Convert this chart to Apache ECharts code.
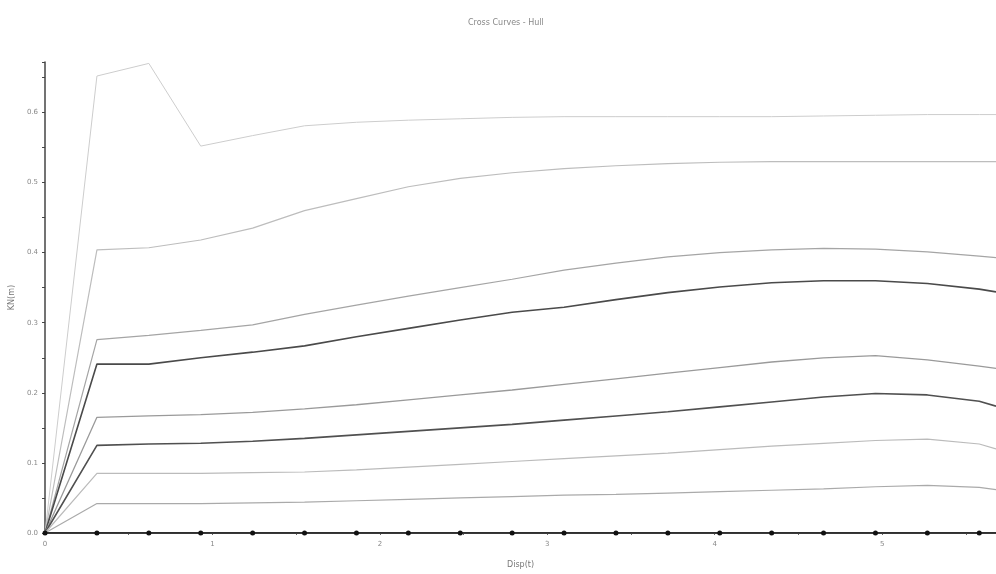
<!DOCTYPE html>
<html>
<head>
<meta charset="utf-8">
<script src="https://cdn.jsdelivr.net/npm/echarts@6/dist/echarts.min.js"></script>
<style>html,body{margin:0;padding:0;background:#fff;}#c{width:996px;height:574px;}</style>
</head>
<body>
<div id="c"></div>
<script>
const displacement = [0, 0.31, 0.62, 0.93, 1.24, 1.55, 1.86, 2.17, 2.48, 2.79, 3.10, 3.41, 3.72, 4.03, 4.34, 4.65, 4.96, 5.27, 5.58, 5.68];
const curveA = [0, 0.652, 0.670, 0.552, 0.567, 0.581, 0.586, 0.589, 0.591, 0.593, 0.594, 0.594, 0.594, 0.594, 0.594, 0.595, 0.596, 0.597, 0.597, 0.597];
const curveB = [0, 0.404, 0.407, 0.418, 0.435, 0.460, 0.477, 0.494, 0.506, 0.514, 0.520, 0.524, 0.527, 0.529, 0.530, 0.530, 0.530, 0.530, 0.530, 0.530];
const curveC = [0, 0.276, 0.282, 0.289, 0.297, 0.312, 0.325, 0.338, 0.350, 0.362, 0.375, 0.385, 0.394, 0.400, 0.404, 0.406, 0.405, 0.401, 0.395, 0.393];
const curveD = [0, 0.241, 0.241, 0.250, 0.258, 0.267, 0.280, 0.292, 0.304, 0.315, 0.322, 0.333, 0.343, 0.351, 0.357, 0.360, 0.360, 0.356, 0.348, 0.344];
const curveE = [0, 0.165, 0.167, 0.169, 0.172, 0.177, 0.183, 0.190, 0.197, 0.204, 0.212, 0.220, 0.228, 0.236, 0.244, 0.250, 0.253, 0.247, 0.238, 0.235];
const curveF = [0, 0.125, 0.127, 0.128, 0.131, 0.135, 0.140, 0.145, 0.150, 0.155, 0.161, 0.167, 0.173, 0.180, 0.187, 0.194, 0.199, 0.197, 0.188, 0.181];
const curveG = [0, 0.085, 0.085, 0.085, 0.086, 0.087, 0.090, 0.094, 0.098, 0.102, 0.106, 0.110, 0.114, 0.119, 0.124, 0.128, 0.132, 0.134, 0.127, 0.120];
const curveH = [0, 0.042, 0.042, 0.042, 0.043, 0.044, 0.046, 0.048, 0.050, 0.052, 0.054, 0.055, 0.057, 0.059, 0.061, 0.063, 0.066, 0.068, 0.065, 0.062];
const curveZero = [0, 0, 0, 0, 0, 0, 0, 0, 0, 0, 0, 0, 0, 0, 0, 0, 0, 0, 0, 0];
const yTickLabels = ['0.0', '0.1', '0.2', '0.3', '0.4', '0.5', '0.6'];

const curves = [
  {data: curveA, color: '#cdcdcd', width: 1},
  {data: curveB, color: '#bdbdbd', width: 1.2},
  {data: curveC, color: '#a5a5a5', width: 1.2},
  {data: curveD, color: '#4a4a4a', width: 1.6},
  {data: curveE, color: '#9a9a9a', width: 1.3},
  {data: curveF, color: '#505050', width: 1.6},
  {data: curveG, color: '#bbbbbb', width: 1.2},
  {data: curveH, color: '#aaaaaa', width: 1.2}
];

const series = curves.map(c => ({
  type: 'line',
  data: displacement.map((x, i) => [x, c.data[i]]),
  symbol: 'none',
  lineStyle: {color: c.color, width: c.width},
  animation: false,
  z: 2
}));
series.push({
  type: 'line',
  data: displacement.map((x, i) => ({value: [x, curveZero[i]], symbol: i === displacement.length - 1 ? 'none' : 'circle'})),
  symbolSize: 5,
  itemStyle: {color: '#111'},
  lineStyle: {color: '#222', width: 1.5},
  animation: false,
  z: 3
});

const chart = echarts.init(document.getElementById('c'));
chart.setOption({
  backgroundColor: '#fff',
  animation: false,
  title: {
    text: 'Cross Curves - Hull',
    left: 463, top: 14,
    textStyle: {fontSize: 8, fontWeight: 'normal', color: '#888', fontFamily: 'DejaVu Sans'}
  },
  grid: {left: 44, right: 0, top: 62, bottom: 35},
  xAxis: {
    type: 'value', min: 0, max: 5.68, interval: 1,
    name: 'Disp(t)', nameLocation: 'middle', nameGap: 28,
    nameTextStyle: {fontSize: 8, color: '#777', fontFamily: 'DejaVu Sans'},
    axisLine: {show: true, lineStyle: {color: '#222', width: 1.5}},
    axisTick: {show: true, length: 2, lineStyle: {color: '#666'}},
    minorTick: {show: true, splitNumber: 2, length: 2, lineStyle: {color: '#666'}},
    axisLabel: {fontSize: 7, color: '#888', margin: 8, showMaxLabel: false, fontFamily: 'DejaVu Sans'},
    splitLine: {show: false}
  },
  yAxis: {
    type: 'value', min: 0, max: 0.672, interval: 0.1,
    name: 'KN(m)', nameLocation: 'middle', nameGap: 27, nameRotate: 90,
    nameTextStyle: {fontSize: 8, color: '#777', fontFamily: 'DejaVu Sans'},
    axisLine: {show: true, lineStyle: {color: '#444', width: 1.5}},
    axisTick: {show: true, length: 3, lineStyle: {color: '#444'}},
    minorTick: {show: true, splitNumber: 2, length: 3, lineStyle: {color: '#444'}},
    axisLabel: {
      fontSize: 7, color: '#888', margin: 7, showMaxLabel: false, fontFamily: 'DejaVu Sans',
      formatter: v => yTickLabels[Math.round(v * 10)] || ''
    },
    splitLine: {show: false}
  },
  series: series
});
</script>
</body>
</html>
